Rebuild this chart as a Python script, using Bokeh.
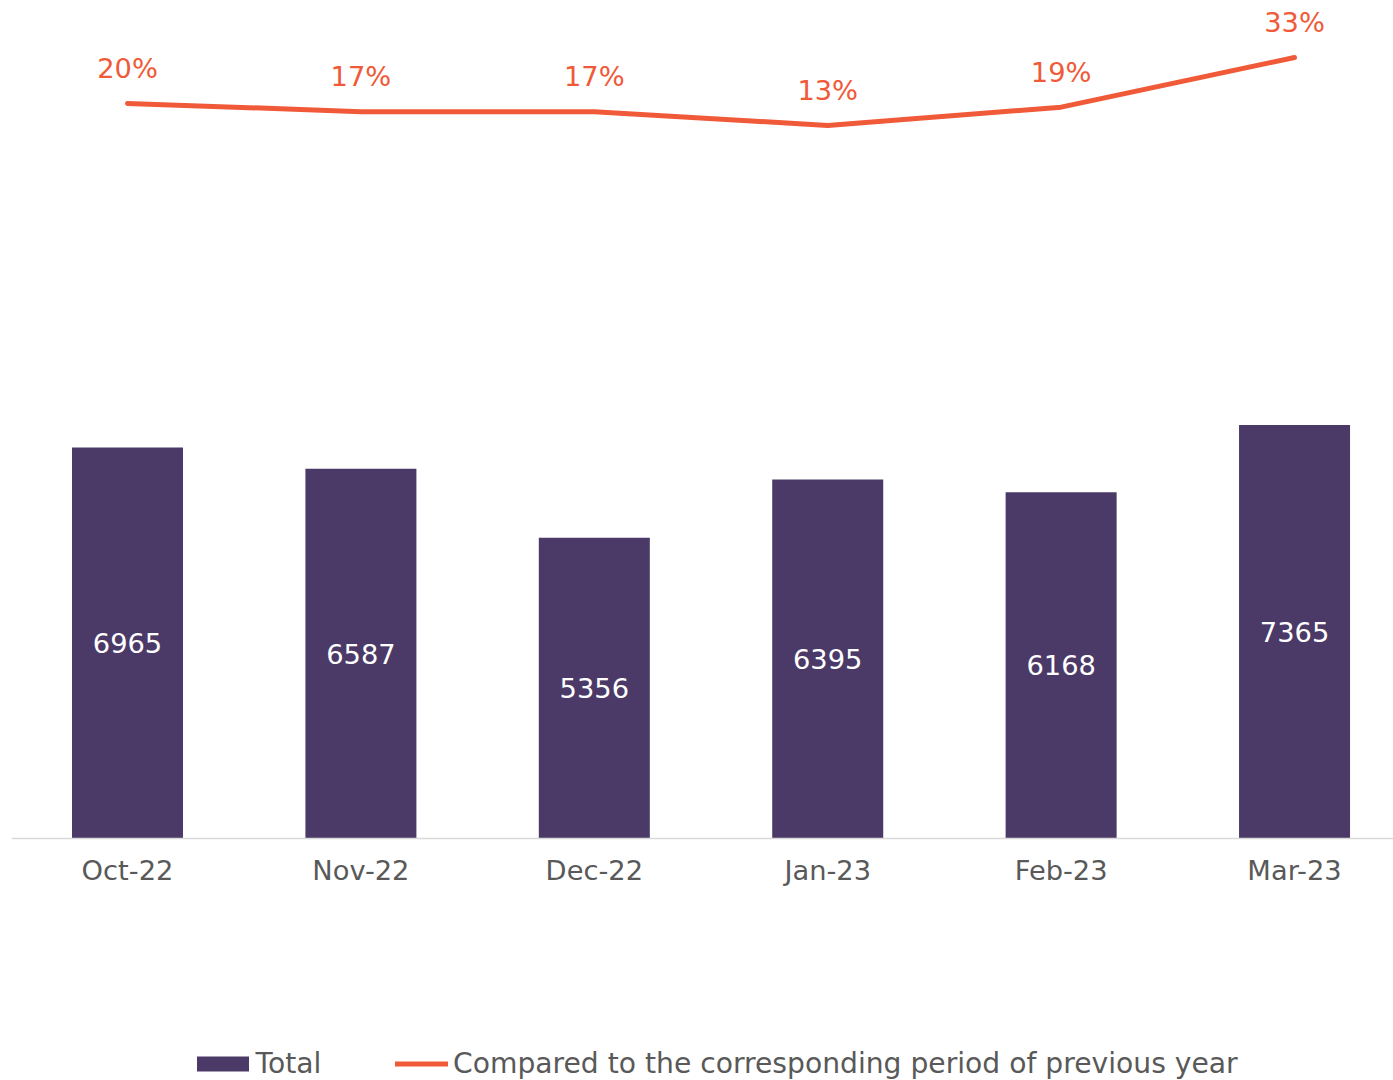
from bokeh.plotting import figure
from bokeh.models import Range1d, FixedTicker, Legend, LegendItem, ColumnDataSource
from bokeh.core.properties import value
from bokeh.embed import file_html
from bokeh.resources import INLINE

months = ["Oct-22", "Nov-22", "Dec-22", "Jan-23", "Feb-23", "Mar-23"]
totals = [6965, 6587, 5356, 6395, 6168, 7365]
pct_change = [19.7, 17.3, 17.3, 13.3, 18.6, 33.0]

BAR = "#4B3A67"
LINE = "#F05A38"
GRAY = "#595959"
FONT = "DejaVu Sans"
FS = "27.3px"
FS_LEG = "28.2px"

xs = list(range(len(months)))
src = ColumnDataSource(dict(
    x=xs,
    total=totals,
    half=[t / 2 for t in totals],
    total_lbl=[str(t) for t in totals],
    pct=pct_change,
    pct_lbl=[f"{round(v):d}%" for v in pct_change],
))

p = figure(width=1393, height=1080, output_backend="svg", toolbar_location=None,
           x_range=Range1d(-0.497, 5.424), y_range=Range1d(-4310, 14926),
           min_border_left=11, min_border_right=0, min_border_top=0, min_border_bottom=0)
p.extra_y_ranges = {"pct": Range1d(-263.52, 49.52)}
p.outline_line_color = None
p.xgrid.visible = False
p.ygrid.visible = False
p.yaxis.visible = False
p.background_fill_color = "white"
p.border_fill_color = "white"

ax = p.xaxis[0]
ax.fixed_location = 0
ax.ticker = FixedTicker(ticks=xs)
ax.major_label_overrides = {i: m for i, m in zip(xs, months)}
ax.axis_line_color = "#D9D9D9"
ax.axis_line_width = 1.5
ax.major_tick_line_color = None
ax.minor_tick_line_color = None
ax.major_tick_in = 0
ax.major_tick_out = 0
ax.major_label_standoff = 16
ax.major_label_text_font = FONT
ax.major_label_text_font_size = FS
ax.major_label_text_color = GRAY

bars = p.vbar(x="x", top="total", width=0.4756, source=src, fill_color=BAR, line_color=None)
p.text(x="x", y="half", text="total_lbl", source=src, text_color="white",
       text_font=value(FONT), text_font_size=FS, text_align="center", text_baseline="middle")

ln = p.line(x="x", y="pct", source=src, y_range_name="pct", line_color=LINE, line_width=5,
            line_cap="round", line_join="round")
p.text(x="x", y="pct", text="pct_lbl", source=src, y_range_name="pct", text_color=LINE,
       text_font=value(FONT), text_font_size=FS, text_align="center",
       text_baseline="alphabetic", y_offset=-35)

leg1 = Legend(items=[LegendItem(label="Total", renderers=[bars])],
              location=(178.5, 0), orientation="horizontal", glyph_width=65, glyph_height=19,
              label_standoff=1, padding=0, margin=0, border_line_color=None,
              background_fill_alpha=0, label_text_font=FONT, label_text_font_size=FS_LEG,
              label_text_color=GRAY)
leg2 = Legend(items=[LegendItem(label="Compared to the corresponding period of previous year",
                                renderers=[ln])],
              location=(384, 0), orientation="horizontal", glyph_width=53, glyph_height=19,
              label_standoff=5, padding=0, margin=0, border_line_color=None,
              background_fill_alpha=0, label_text_font=FONT, label_text_font_size=FS_LEG,
              label_text_color=GRAY)
p.add_layout(leg1)
p.add_layout(leg2)

open("out.html", "w").write(file_html(p, INLINE))
